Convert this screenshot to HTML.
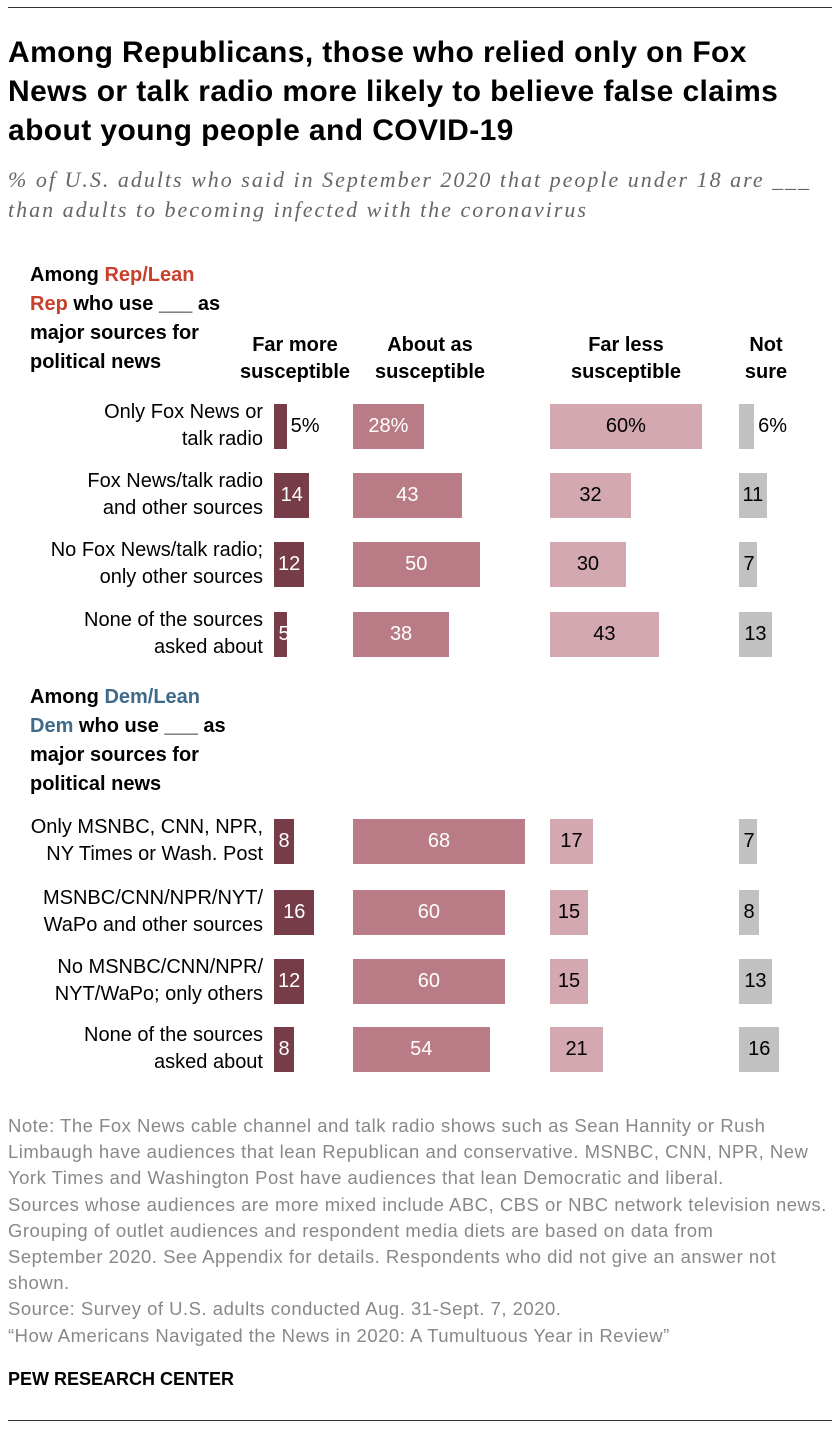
<!DOCTYPE html>
<html><head><meta charset="utf-8"><style>
body{margin:0;background:#fff;width:840px;height:1430px;position:relative;overflow:hidden;font-family:"Liberation Sans",sans-serif;}
.abs{position:absolute}
#title{left:8px;top:33px;width:830px;font-family:"Liberation Sans",sans-serif;font-weight:bold;font-size:30px;letter-spacing:0.4px;line-height:39px;color:#000;white-space:nowrap}
#sub{left:8px;top:165px;width:830px;font-family:"Liberation Serif",serif;font-style:italic;font-size:22px;letter-spacing:2px;line-height:30px;color:#666;white-space:nowrap}
.grp{font-weight:bold;font-size:20px;line-height:29px;color:#000;left:30px}
.hdr{font-weight:bold;font-size:20px;line-height:27px;text-align:center;top:332px}
.note{left:8px;font-family:"Liberation Sans",sans-serif;font-size:18.5px;letter-spacing:0.5px;line-height:26.2px;color:#888;width:830px;white-space:nowrap}
</style></head><body>
<div class="abs" style="left:8px;top:7px;width:824px;height:1px;background:#333"></div>
<div id="title" class="abs">Among Republicans, those who relied only on Fox<br>News or talk radio more likely to believe false claims<br>about young people and COVID-19</div>
<div id="sub" class="abs">% of U.S. adults who said in September 2020 that people under 18 are ___<br>than adults to becoming infected with the coronavirus</div>
<div class="abs grp" style="top:261px">Among <span style="color:#c8402c">Rep/Lean<br>Rep</span> who use ___ as<br>major sources for<br>political news</div>
<div class="abs grp" style="top:683px">Among <span style="color:#3f6a8a">Dem/Lean<br>Dem</span> who use ___ as<br>major sources for<br>political news</div>
<div class="abs hdr" style="left:225px;width:140px">Far more<br>susceptible</div>
<div class="abs hdr" style="left:360px;width:140px">About as<br>susceptible</div>
<div class="abs hdr" style="left:556px;width:140px">Far less<br>susceptible</div>
<div class="abs hdr" style="left:716px;width:100px">Not<br>sure</div>
<div id="chart" class="abs" style="left:0;top:0;width:840px;height:1100px"></div>
<div class="abs note" style="top:1113px">Note: The Fox News cable channel and talk radio shows such as Sean Hannity or Rush<br>Limbaugh have audiences that lean Republican and conservative. MSNBC, CNN, NPR, New<br>York Times and Washington Post have audiences that lean Democratic and liberal.<br>Sources whose audiences are more mixed include ABC, CBS or NBC network television news.<br>Grouping of outlet audiences and respondent media diets are based on data from<br>September 2020. See Appendix for details. Respondents who did not give an answer not<br>shown.<br>Source: Survey of U.S. adults conducted Aug. 31-Sept. 7, 2020.<br>“How Americans Navigated the News in 2020: A Tumultuous Year in Review”</div>
<div class="abs" style="left:8px;top:1369px;font-family:'Liberation Sans',sans-serif;font-weight:bold;font-size:18px;color:#000">PEW RESEARCH CENTER</div>
<div class="abs" style="left:8px;top:1420px;width:824px;height:1px;background:#333"></div>
<script>
const categories=["Only Fox News or<br>talk radio","Fox News/talk radio<br>and other sources","No Fox News/talk radio;<br>only other sources","None of the sources<br>asked about","Only MSNBC, CNN, NPR,<br>NY Times or Wash. Post","MSNBC/CNN/NPR/NYT/<br>WaPo and other sources","No MSNBC/CNN/NPR/<br>NYT/WaPo; only others","None of the sources<br>asked about"];
const farMore=[5,14,12,5,8,16,12,8];
const aboutAs=[28,43,50,38,68,60,60,54];
const farLess=[60,32,30,43,17,15,15,21];
const notSure=[6,11,7,13,7,8,13,16];
const series=[farMore,aboutAs,farLess,notSure];
const seriesNames=["far-more","about-as","far-less","not-sure"];
const colStart=[274,353,550,739];
const colors=["#763c48","#b97b86","#d4a8b0","#c1c1c1"];
const txtColors=["#fff","#fff","#000","#000"];
const rowY=[426,495,564,634,841,912,981,1049];
const scale=2.53,barH=45;
const chart=document.getElementById('chart');
categories.forEach((c,i)=>{
  const l=document.createElement('div');
  
  
  l.style.cssText=`position:absolute;right:${840-263}px;top:${rowY[i]-27}px;text-align:right;font-size:20px;line-height:27px;color:#000;white-space:nowrap`;
  l.innerHTML=c;chart.appendChild(l);
  series.forEach((s,j)=>{
    const v=s[i],w=v*scale;
    const b=document.createElement('div');
    
    
    b.style.cssText=`position:absolute;left:${colStart[j]}px;top:${rowY[i]-barH/2}px;width:${w}px;height:${barH}px;background:${colors[j]}`;
    chart.appendChild(b);
    const t=document.createElement('div');
    
    
    const lbl=i===0?v+'%':''+v;
    const outside=i===0&&w<30;
    if(outside){
      t.style.cssText=`position:absolute;left:${colStart[j]+w+4}px;top:${rowY[i]-13}px;font-size:20px;line-height:26px;color:#000`;
    }else{
      t.style.cssText=`position:absolute;left:${colStart[j]}px;width:${Math.max(w,20)}px;top:${rowY[i]-13}px;font-size:20px;line-height:26px;text-align:center;color:${txtColors[j]};white-space:nowrap`;
    }
    t.textContent=lbl;chart.appendChild(t);
  });
});
</script>
</body></html>
